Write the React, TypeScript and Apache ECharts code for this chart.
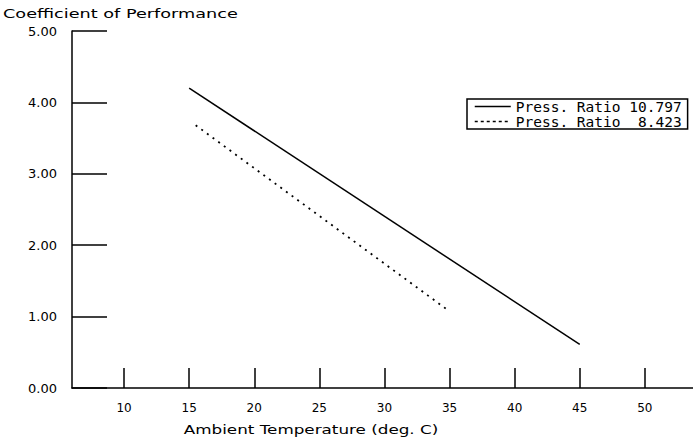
import React, { useEffect, useRef } from "react";
import * as echarts from "echarts";

const xTicks = [10, 15, 20, 25, 30, 35, 40, 45, 50];
const seriesNames = ["Press. Ratio 10.797", "Press. Ratio  8.423"];
const ratio10797 = [
  [15, 4.2],
  [45, 0.61],
];
const ratio8423 = [
  [15.5, 3.68],
  [34.8, 1.1],
];
const titleText = "Coefficient of Performance";
const xAxisName = "Ambient Temperature (deg. C)";

const FONT = "DejaVu Sans";
const MONO = "DejaVu Sans Mono";

export default function App() {
  const ref = useRef<HTMLDivElement>(null);
  useEffect(() => {
    if (!ref.current) return;
    const chart = echarts.init(ref.current, undefined, { renderer: "svg" });
    chart.setOption({
      animation: false,
      backgroundColor: "#fff",
      textStyle: { fontFamily: FONT, color: "#000" },
      grid: { left: 72, right: 0, top: 31, bottom: 51, containLabel: false },
      xAxis: {
        type: "value",
        min: 6,
        max: 53.7,
        splitLine: { show: false },
        axisLine: { show: true, lineStyle: { color: "#000", width: 1.5 } },
        axisTick: {
          show: true,
          inside: true,
          length: 20,
          customValues: xTicks,
          lineStyle: { color: "#000", width: 1.5 },
        },
        axisLabel: {
          customValues: xTicks,
          margin: 14,
          fontSize: 12,
          fontFamily: FONT,
          color: "#000",
        },
      },
      yAxis: {
        type: "value",
        min: 0,
        max: 5,
        interval: 1,
        splitLine: { show: false },
        axisLine: { show: true, lineStyle: { color: "#000", width: 1.5 } },
        axisTick: {
          show: true,
          inside: true,
          length: 35,
          lineStyle: { color: "#000", width: 1.5 },
        },
        axisLabel: {
          margin: 15,
          fontSize: 13,
          fontFamily: FONT,
          color: "#000",
          formatter: (v: number) => v.toFixed(2),
        },
      },
      legend: {
        orient: "vertical",
        left: 467,
        top: 99,
        borderColor: "#000",
        borderWidth: 1.5,
        padding: [0, 6, 0, 7],
        itemGap: 0,
        itemWidth: 36,
        itemHeight: 10,
        itemStyle: { color: "transparent", borderWidth: 0, opacity: 0 },
        textStyle: { fontFamily: MONO, fontSize: 14.5, color: "#000", lineHeight: 14.5 },
        data: [
          { name: seriesNames[0], lineStyle: { type: "solid", width: 1.5, color: "#000" } },
          { name: seriesNames[1], lineStyle: { type: [3, 3], width: 1.5, color: "#000" } },
        ],
      },
      graphic: [
        {
          type: "text",
          x: 3,
          y: 14,
          scaleX: 1.36,
          style: {
            text: titleText,
            font: `13px "${FONT}"`,
            fill: "#000",
            verticalAlign: "middle",
          },
        },
        {
          type: "text",
          x: 311,
          y: 430,
          scaleX: 1.29,
          style: {
            text: xAxisName,
            font: `13px "${FONT}"`,
            fill: "#000",
            align: "center",
            verticalAlign: "middle",
          },
        },
      ],
      series: [
        {
          name: seriesNames[0],
          type: "line",
          data: ratio10797,
          symbol: "none",
          lineStyle: { color: "#000", width: 1.5, type: "solid" },
          itemStyle: { color: "#000" },
        },
        {
          name: seriesNames[1],
          type: "line",
          data: ratio8423,
          symbol: "none",
          lineStyle: { color: "#000", width: 1.8, type: [2, 5] },
          itemStyle: { color: "#000" },
        },
      ],
    });
    return () => chart.dispose();
  }, []);
  return (
    <div
      ref={ref}
      style={{ position: "fixed", left: 0, top: 0, width: 693, height: 439 }}
    />
  );
}
